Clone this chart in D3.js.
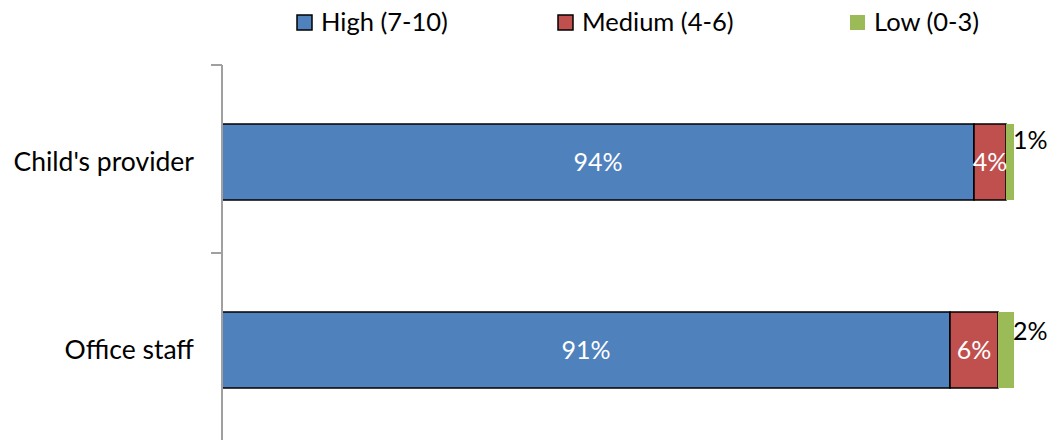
<!DOCTYPE html>
<html>
<head>
<meta charset="utf-8">
<script src="https://cdn.jsdelivr.net/npm/d3@7"></script>
<style>
  html, body { margin: 0; padding: 0; background: #fff; }
  svg { display: block; font-family: Lato, "Liberation Sans", sans-serif; }
</style>
</head>
<body>
<svg id="chart" width="1052" height="440"></svg>
<script>
// Satisfaction ratings by contact type (percent of respondents)
const categories = ["Child's provider", "Office staff"];
const seriesNames = ["High (7-10)", "Medium (4-6)", "Low (0-3)"];
const highValues = [94, 91];
const mediumValues = [4, 6];
const lowValues = [1, 2];
const seriesColors = ["#4f81bd", "#c0504d", "#9bbb59"];

const svg = d3.select("#chart");
const W = 1052, H = 440;
const plotLeft = 222, plotRight = 1022;
const plotTop = 65, plotBottom = 441;

const x = d3.scaleLinear().domain([0, 100]).range([plotLeft, plotRight]);
const y = d3.scaleBand().domain(categories).range([plotTop, plotBottom]);
const barH = 76;
const barOffset = (y.bandwidth() - barH) / 2 + 3;

// Stack the three series per category
const rows = categories.map((c, i) => ({
  cat: c,
  "High (7-10)": highValues[i],
  "Medium (4-6)": mediumValues[i],
  "Low (0-3)": lowValues[i]
}));
const stack = d3.stack().keys(seriesNames)(rows);

const fontSize = 25;
const legendFontSize = 25.5;
const catFontSize = 26.5;

// Bars
stack.forEach((layer, li) => {
  const g = svg.append("g");
  layer.forEach((seg, ci) => {
    g.append("rect")
      .attr("x", x(seg[0]))
      .attr("y", y(categories[ci]) + barOffset)
      .attr("width", x(seg[1]) - x(seg[0]))
      .attr("height", barH)
      .attr("fill", seriesColors[li])
      .attr("stroke", li < 2 ? "#000" : "none")
      .attr("stroke-width", li < 2 ? 1.5 : 0);
  });
});

// Value labels: inside for the two large segments, outside above-right for the small one
const outsideLift = [22, 19];
stack.forEach((layer, li) => {
  layer.forEach((seg, ci) => {
    const v = seg[1] - seg[0];
    const cy = y(categories[ci]) + barOffset + barH / 2;
    if (li < 2) {
      svg.append("text")
        .attr("x", (x(seg[0]) + x(seg[1])) / 2)
        .attr("y", cy)
        .attr("dy", "0.35em")
        .attr("text-anchor", "middle")
        .attr("fill", "#fff")
        .attr("font-size", fontSize)
        .text(v + "%");
    } else {
      svg.append("text")
        .attr("x", x(seg[1]) - 1)
        .attr("y", cy - outsideLift[ci])
        .attr("dy", "0.35em")
        .attr("text-anchor", "start")
        .attr("fill", "#000")
        .attr("font-size", fontSize)
        .text(v + "%");
    }
  });
});

// Category axis
const yAxis = d3.axisLeft(y).tickSize(0).tickPadding(28);
const axisG = svg.append("g")
  .attr("transform", `translate(${plotLeft},0)`)
  .call(yAxis);
axisG.select(".domain").remove();
axisG.selectAll("text")
  .attr("font-size", catFontSize)
  .attr("font-family", "Lato, 'Liberation Sans', sans-serif")
  .attr("fill", "#000")
  .attr("dy", "0.35em")
  .attr("transform", "translate(0,3)");

// Axis line and category boundary ticks
const boundaries = categories.map(c => y(c)).concat([plotBottom]);
svg.append("line")
  .attr("x1", plotLeft).attr("x2", plotLeft)
  .attr("y1", plotTop).attr("y2", H)
  .attr("stroke", "#a0a0a0").attr("stroke-width", 2);
svg.selectAll(".bt").data(boundaries).enter().append("line")
  .attr("x1", plotLeft - 11).attr("x2", plotLeft)
  .attr("y1", d => d).attr("y2", d => d)
  .attr("stroke", "#a0a0a0").attr("stroke-width", 2);

// Legend
const legendX = [296, 557, 849];
const legend = svg.append("g");
seriesNames.forEach((name, i) => {
  legend.append("rect")
    .attr("x", legendX[i] + 1)
    .attr("y", 15)
    .attr("width", 15)
    .attr("height", 15)
    .attr("fill", seriesColors[i])
    .attr("stroke", i < 2 ? "#000" : "none")
    .attr("stroke-width", 1.5);
  legend.append("text")
    .attr("x", legendX[i] + 25)
    .attr("y", 22)
    .attr("dy", "0.35em")
    .attr("font-size", legendFontSize)
    .attr("fill", "#000")
    .text(name);
});
</script>
</body>
</html>
